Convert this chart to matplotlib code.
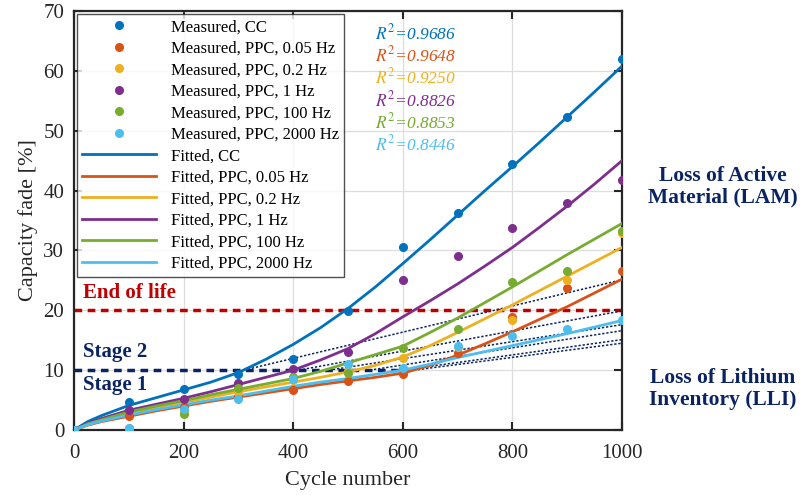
import matplotlib
matplotlib.use("Agg")
import matplotlib.pyplot as plt
from matplotlib.lines import Line2D

plt.rcParams['font.family'] = ['Liberation Serif', 'DejaVu Serif']
plt.rcParams['mathtext.fontset'] = 'stix'

# measured capacity fade
cycles = [0, 100, 200, 300, 400, 500, 600, 700, 800, 900, 1000]
meas_cc = [0, 4.7, 6.8, 9.4, 11.8, 19.9, 30.5, 36.2, 44.5, 52.3, 61.9]
meas_005 = [0, 2.3, 3.8, 5.5, 6.7, 8.2, 9.3, 12.9, 18.8, 23.8, 26.6]
meas_02 = [0, 0.3, 3.2, 6.3, 8.3, 9.8, 12.1, 13.9, 18.4, 25.0, 32.9]
meas_1 = [0, 3.4, 5.2, 7.9, 10.2, 13.1, 25.1, 29.1, 33.8, 38.0, 41.7]
meas_100 = [0, 0.2, 2.7, 7.0, 8.9, 9.6, 13.7, 16.9, 24.7, 26.6, 33.3]
meas_2000 = [0, 0.3, 3.5, 5.2, 8.6, 11.0, 10.4, 14.1, 15.7, 16.9, 18.3]

# fitted curves
cyc_fit = [0, 25, 50, 100, 150, 200, 250, 300, 350, 400, 450, 500,
           550, 600, 650, 700, 750, 800, 850, 900, 950, 1000]
fit_cc = [0, 1.4, 2.4, 4.1, 5.4, 6.7, 8.0, 9.6, 11.8, 14.3, 17.1, 20.3,
          23.9, 27.8, 31.8, 35.9, 40.0, 44.0, 48.1, 52.3, 56.5, 60.8]
fit_005 = [0, 0.8, 1.4, 2.3, 3.2, 4.0, 4.8, 5.5, 6.2, 6.9, 7.6, 8.2,
           8.8, 9.5, 10.8, 12.5, 14.4, 16.4, 18.5, 20.6, 22.9, 25.2]
fit_02 = [0, 0.9, 1.6, 2.8, 3.7, 4.6, 5.5, 6.4, 7.2, 8.0, 8.8, 9.7,
          10.8, 12.2, 14.1, 16.3, 18.6, 20.9, 23.3, 25.7, 28.1, 30.5]
fit_1 = [0, 1.1, 1.9, 3.3, 4.3, 5.3, 6.4, 7.6, 8.8, 10.0, 11.7, 13.6,
         16.1, 18.9, 21.6, 24.4, 27.4, 30.5, 33.9, 37.4, 41.1, 45.0]
fit_100 = [0, 1.0, 1.7, 3.0, 4.0, 4.9, 5.9, 6.8, 7.7, 8.6, 9.8, 11.2,
           12.6, 14.0, 16.3, 18.7, 21.3, 23.9, 26.6, 29.3, 31.9, 34.5]
fit_2000 = [0, 0.9, 1.5, 2.5, 3.4, 4.2, 5.0, 5.7, 6.5, 7.3, 8.0, 8.6,
            9.3, 10.0, 11.0, 12.1, 13.1, 14.1, 15.1, 16.1, 17.2, 18.3]

labels = ['CC', 'PPC, 0.05 Hz', 'PPC, 0.2 Hz', 'PPC, 1 Hz', 'PPC, 100 Hz', 'PPC, 2000 Hz']
r2_values = ['0.9686', '0.9648', '0.9250', '0.8826', '0.8853', '0.8446']

# stage-1 linear extrapolations (start cycle at 10 %, value at 1000 cycles)
lin_start = [310, 410, 465, 540, 600, 620]
lin_end = [25.1, 19.9, 17.6, 16.6, 15.1, 14.5]

colors = ['#0072BD', '#D95319', '#EDB120', '#7E2F8E', '#77AC30', '#4DBEEE']
navy = '#0A2463'
red = '#C00000'

measured = [meas_cc, meas_005, meas_02, meas_1, meas_100, meas_2000]
fitted = [fit_cc, fit_005, fit_02, fit_1, fit_100, fit_2000]

fig = plt.figure(figsize=(8.07, 5.0), dpi=100)
ax = fig.add_axes([74 / 807, 70 / 500, 548 / 807, 419 / 500])

# thresholds
ax.plot([0, 1000], [20, 20], color=red, lw=2.5, ls=(0, (2.2, 1.6)), zorder=2)
ax.plot([0, 600], [10, 10], color=navy, lw=2.5, ls=(0, (2.2, 1.6)), zorder=2)

# linear extrapolation of stage 1
for s, e in zip(lin_start, lin_end):
    ax.plot([s, 1000], [10, e], color=navy, lw=1.1, ls=(0, (1.5, 1.2)), zorder=2)

handles = []
for m, c, lab in zip(measured, colors, labels):
    ax.plot(cycles, m, 'o', color=c, ms=5.5, zorder=4)
    handles.append(Line2D([], [], marker='o', ls='none', color=c, ms=5.5,
                          label='Measured, ' + lab))
for f, c, lab in zip(fitted, colors, labels):
    ax.plot(cyc_fit, f, '-', color=c, lw=2, zorder=3)
    handles.append(Line2D([], [], color=c, lw=2, label='Fitted, ' + lab))

ax.set_xlim(0, 1000)
ax.set_ylim(0, 70)
ax.set_xticks(range(0, 1001, 200))
ax.set_yticks(range(0, 71, 10))
ax.grid(True, color='#dddddd', lw=0.9)
ax.set_axisbelow(True)
ax.tick_params(direction='in', top=True, right=True, length=6, width=1.5,
               labelsize=15, colors='#262626')
ax.tick_params(axis='x', pad=10)
ax.tick_params(axis='y', pad=7)
for sp in ax.spines.values():
    sp.set_linewidth(1.6)
    sp.set_color('#262626')
ax.set_xlabel('Cycle number', fontsize=16, color='#262626', labelpad=6)
ax.set_ylabel('Capacity fade [%]', fontsize=16, color='#262626', labelpad=4)

leg = ax.legend(handles=handles, loc='upper left', fontsize=12,
                handlelength=4.4, borderaxespad=0.2, frameon=True, fancybox=False,
                labelspacing=0.33, handletextpad=0.9, borderpad=0.3)
leg.get_frame().set_edgecolor('#262626')
leg.get_frame().set_linewidth(1.0)

# R^2 annotations
for i, (r, c) in enumerate(zip(r2_values, colors)):
    ax.text(549, 66.3 - 3.73 * i, '$R^2$=' + r, color=c, fontsize=12.5,
            style='italic', va='center', ha='left')

ax.text(16, 22.9, 'End of life', color=red, fontsize=15, fontweight='bold', va='center')
ax.text(16, 13.0, 'Stage 2', color=navy, fontsize=15, fontweight='bold', va='center')
ax.text(16, 7.5, 'Stage 1', color=navy, fontsize=15, fontweight='bold', va='center')

fig.text(723 / 807, 1 - 187 / 500, 'Loss of Active\nMaterial (LAM)', color=navy,
         fontsize=15.5, fontweight='bold', ha='center', va='center', linespacing=1.1)
fig.text(723 / 807, 1 - 389 / 500, 'Loss of Lithium\nInventory (LLI)', color=navy,
         fontsize=15.5, fontweight='bold', ha='center', va='center', linespacing=1.1)

fig.savefig('out.png', dpi=100)
